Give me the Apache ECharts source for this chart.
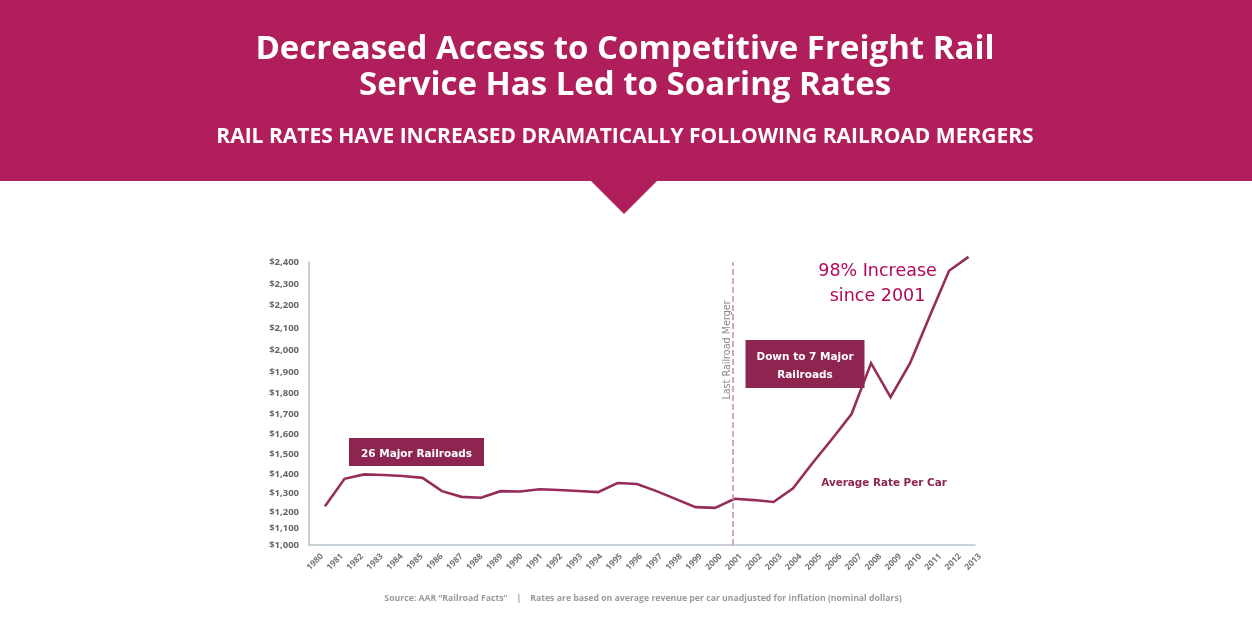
<!DOCTYPE html>
<html>
<head>
<meta charset="utf-8">
<style>html,body{margin:0;background:#fff}#chart{width:1252px;height:622px}</style>
<script src="https://cdn.jsdelivr.net/npm/echarts@6/dist/echarts.min.js"></script>
</head>
<body>
<div id="chart"></div>
<script>
var years = [1980,1981,1982,1983,1984,1985,1986,1987,1988,1989,1990,1991,1992,1993,1994,1995,1996,
    1997,1998,1999,2000,2001,2002,2003,2004,2005,2006,2007,2008,2009,2010,2011,2012,2013];
var rates = [1230,1375,1398,1395,1390,1380,1310,1280,1275,1310,1308,1320,1316,1311,1305,1353,1348,
    1310,1268,1226,1222,1270,1263,1253,1325,1455,1575,1700,1940,1780,1940,2150,2360,2423];
var tickLabels = [1000,1100,1200,1300,1400,1500,1600,1700,1800,1900,2000,2100,2200,2300,2400];
// the printed ticks are not evenly spaced, this is where each one sits on the axis
var tickSpots = [1000,1084,1163,1257,1351,1450,1549,1648,1752,1856,1965,2074,2187,2291,2400];
var mergerYear = 2001;

function axisSpot(v) {
    var i = 0;
    while (i < tickLabels.length - 2 && v > tickLabels[i + 1]) i++;
    var t = (v - tickLabels[i]) / (tickLabels[i + 1] - tickLabels[i]);
    return tickSpots[i] + t * (tickSpots[i + 1] - tickSpots[i]);
}

var plum = '#8e2450';
var myChart = echarts.init(document.getElementById('chart'));
var option = {
    animation: false,
    title: [{
        text: 'Decreased Access to Competitive Freight Rail\nService Has Led to Soaring Rates',
        left: 620, top: 27, textAlign: 'center',
        textStyle: { color: '#fff', fontFamily: 'Open Sans', fontWeight: 'bold', fontSize: 33, lineHeight: 36 }
    }, {
        text: 'RAIL RATES HAVE INCREASED DRAMATICALLY FOLLOWING RAILROAD MERGERS',
        left: 620, top: 122, textAlign: 'center',
        textStyle: { color: '#fff', fontFamily: 'Open Sans', fontWeight: 'bold', fontSize: 21 }
    }, {
        text: 'Source: AAR \u201cRailroad Facts\u201d    |    Rates are based on average revenue per car unadjusted for inflation (nominal dollars)',
        left: 638, top: 589, textAlign: 'center',
        textStyle: { color: '#9a9a9a', fontFamily: 'Open Sans', fontWeight: 'bold', fontSize: 8.7 }
    }],
    grid: [
        { left: 309, right: 277, top: 262, bottom: 77 },
        { left: 322, right: 272, top: 262, bottom: 77 }
    ],
    xAxis: [{
        type: 'value', gridIndex: 0, min: 1979.18, max: 2013.33,
        axisLabel: { show: false }, axisTick: { show: false }, splitLine: { show: false },
        axisLine: { lineStyle: { color: '#b7c3cc', width: 1.5 } }
    }, {
        type: 'category', gridIndex: 1, data: years, boundaryGap: false,
        axisLine: { show: false }, axisTick: { show: false },
        axisLabel: { interval: 0, rotate: 45, margin: 10, color: '#777', fontFamily: 'Open Sans', fontWeight: 'bold', fontSize: 8.5 }
    }],
    yAxis: [{
        type: 'value', gridIndex: 0, min: 1000, max: 2400,
        splitLine: { show: false }, axisTick: { show: false },
        axisLine: { show: true, lineStyle: { color: '#b7c3cc', width: 1.5 } },
        axisLabel: {
            customValues: tickSpots, margin: 10, color: '#666', fontFamily: 'Open Sans', fontWeight: 'bold', fontSize: 9.5,
            formatter: function (v) {
                var label = tickLabels[tickSpots.indexOf(v)];
                return '$' + echarts.format.addCommas(label);
            }
        }
    }, {
        type: 'value', gridIndex: 1, show: false, min: 1000, max: 2400
    }],
    series: [{
        type: 'line',
        xAxisIndex: 0, yAxisIndex: 0,
        data: years.map(function (y, i) { return [y, axisSpot(rates[i])]; }),
        showSymbol: false, clip: false,
        lineStyle: { color: '#962c59', width: 2.6, join: 'miter' },
        markLine: {
            silent: true, symbol: 'none', label: { show: false },
            lineStyle: { color: '#c98ba6', type: 'dashed', width: 1.5 },
            data: [{ xAxis: mergerYear - 0.08 }]
        }
    }],
    graphic: [
        { type: 'rect', z: -10, shape: { x: 0, y: 0, width: 1252, height: 181 }, style: { fill: '#b11e5c' } },
        { type: 'polygon', z: -10, shape: { points: [[591, 181], [657, 181], [624, 214]] }, style: { fill: '#b11e5c' } },
        { type: 'rect', z: 50, shape: { x: 349, y: 438, width: 135, height: 28 }, style: { fill: plum } },
        { type: 'text', z: 51, x: 416.5, y: 454, style: { text: '26 Major Railroads', fill: '#fff', font: 'bold 10.5px "DejaVu Sans"', align: 'center', verticalAlign: 'middle' } },
        { type: 'rect', z: 50, shape: { x: 745.5, y: 340, width: 119, height: 48 }, style: { fill: plum } },
        { type: 'text', z: 51, x: 805, y: 366, style: { text: 'Down to 7 Major\nRailroads', fill: '#fff', font: 'bold 10.5px "DejaVu Sans"', lineHeight: 18, align: 'center', verticalAlign: 'middle' } },
        { type: 'text', z: 51, x: 877.5, y: 284, style: { text: '98% Increase\nsince 2001', fill: '#b0085a', font: '17.5px "DejaVu Sans"', lineHeight: 25, align: 'center', verticalAlign: 'middle' } },
        { type: 'text', z: 51, x: 884, y: 483, style: { text: 'Average Rate Per Car', fill: plum, font: 'bold 10.4px "DejaVu Sans"', align: 'center', verticalAlign: 'middle' } },
        { type: 'text', z: 51, x: 727, y: 350, rotation: Math.PI / 2, style: { text: 'Last Railroad Merger', fill: '#888', font: '9.6px "DejaVu Sans"', align: 'center', verticalAlign: 'middle' } }
    ]
};
myChart.setOption(option);
</script>
</body>
</html>
